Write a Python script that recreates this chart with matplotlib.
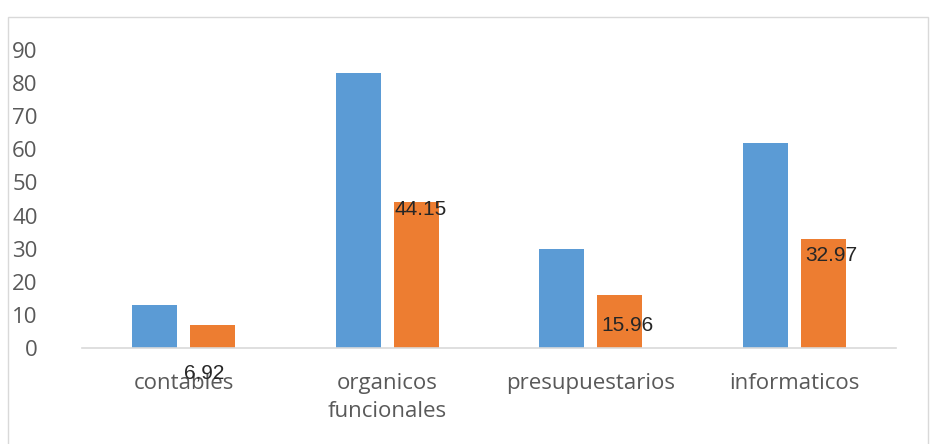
import matplotlib.pyplot as plt
from matplotlib.patches import Rectangle
import numpy as np

categories = ["contables", "organicos\nfuncionales", "presupuestarios", "informaticos"]
serie_azul = [13, 83, 30, 62]
serie_naranja = [6.92, 44.15, 15.96, 32.97]
etiquetas = ["6,92", "44.15", "15.96", "32.97"]

# where excel dropped each data label (pixels from the orange bar's top-left)
label_offsets = [(-6, -48), (1, -8), (4, -30), (5, -17)]

fig = plt.figure(figsize=(9.35, 4.44), dpi=100)
fig.patches.append(Rectangle((8 / 935, -0.02), 920 / 935, 1.02 - 17 / 444,
                             transform=fig.transFigure, fill=False,
                             edgecolor="#D9D9D9", linewidth=1))
ax = fig.add_axes([82 / 935, 1 - 348 / 444, 814 / 935, 298 / 444])

x = np.arange(len(categories))
w = 0.222
ax.bar(x - 0.142, serie_azul, w, color="#5B9BD5")
bars = ax.bar(x + 0.142, serie_naranja, w, color="#ED7D31")

for b, lab, off in zip(bars, etiquetas, label_offsets):
    ax.annotate(lab, (b.get_x(), b.get_height()), xytext=off,
                textcoords="offset pixels", ha="left", va="center",
                fontsize=15, color="#262626", family="Liberation Sans")

ax.set_xlim(-0.5, 3.5)
ax.set_ylim(0, 90)
ax.set_yticks(range(0, 91, 10))
ax.set_xticks(x)
ax.set_xticklabels(categories, fontsize=16, color="#595959", family="Open Sans",
                   linespacing=1.45)
for t in ax.get_yticklabels():
    t.set_fontsize(16)
    t.set_color("#595959")
    t.set_family("Open Sans")
ax.tick_params(axis="y", length=0, pad=32)
ax.tick_params(axis="x", length=0, pad=18)
for s in ["top", "right", "left"]:
    ax.spines[s].set_visible(False)
ax.spines["bottom"].set_color("#D9D9D9")
ax.spines["bottom"].set_linewidth(1.2)

fig.savefig("out.png", dpi=100)
plt.close(fig)
